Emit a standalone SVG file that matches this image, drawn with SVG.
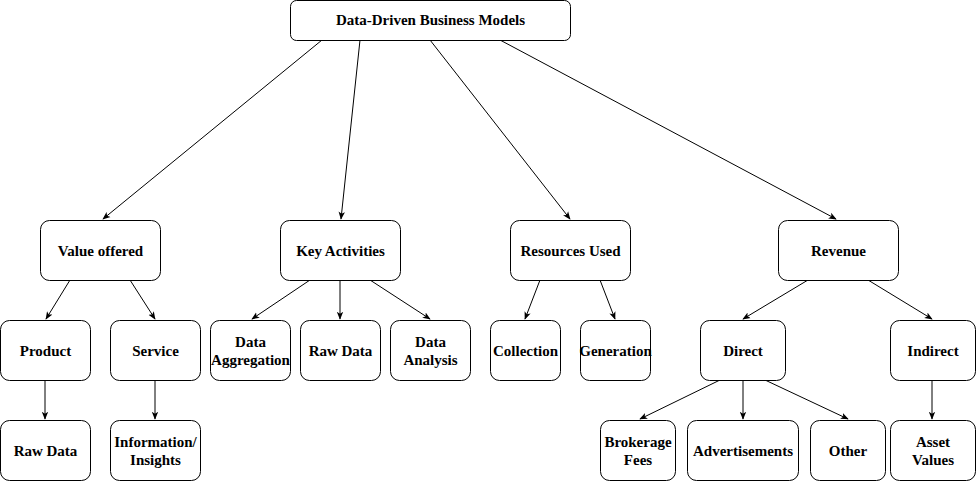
<svg xmlns="http://www.w3.org/2000/svg" width="976" height="481" viewBox="0 0 976 481">
<defs>
<marker id="arr" viewBox="0 0 10 10" refX="9" refY="5" markerWidth="8" markerHeight="8" markerUnits="userSpaceOnUse" orient="auto">
<path d="M0,1 L10,5 L0,9 L2.5,5 Z" fill="#000"/>
</marker>
<style>
.n rect{fill:#fff;stroke:#000;stroke-width:1}
.n text{font-family:"Liberation Serif","Times New Roman",serif;font-weight:bold;font-size:15px;text-anchor:middle;fill:#000}
.e path{fill:none;stroke:#000;stroke-width:1;marker-end:url(#arr)}
</style>
</defs>
<rect width="976" height="481" fill="#fff"/>
<g class="e">
<path d="M322,40 L103,219"/>
<path d="M360,40 L341,219"/>
<path d="M430,40 L570,219"/>
<path d="M500,40 L836,219"/>
<path d="M70,280 L46,319"/>
<path d="M130,280 L155,319"/>
<path d="M45,380 L45,419"/>
<path d="M155,380 L155,419"/>
<path d="M310,280 L252,319"/>
<path d="M340,280 L340,319"/>
<path d="M370,280 L430,319"/>
<path d="M540,280 L525,319"/>
<path d="M600,280 L615,319"/>
<path d="M808,280 L743,319"/>
<path d="M868,280 L932,319"/>
<path d="M720,380 L640,419"/>
<path d="M743,380 L743,419"/>
<path d="M765,380 L848,419"/>
<path d="M932,380 L932,419"/>
</g>
<g id="root" class="n"><rect x="290.5" y="0.5" width="280" height="40" rx="6"/><text x="430.5" y="25">Data-Driven Business Models</text></g>
<g id="value" class="n"><rect x="40.5" y="220.5" width="120" height="60" rx="9"/><text x="100.5" y="256">Value offered</text></g>
<g id="key" class="n"><rect x="280.5" y="220.5" width="120" height="60" rx="9"/><text x="340.5" y="256">Key Activities</text></g>
<g id="resources" class="n"><rect x="510.5" y="220.5" width="120" height="60" rx="9"/><text x="570.5" y="256">Resources Used</text></g>
<g id="revenue" class="n"><rect x="778.5" y="220.5" width="120" height="60" rx="9"/><text x="838.5" y="256">Revenue</text></g>
<g id="product" class="n"><rect x="0.5" y="320.5" width="90" height="60" rx="9"/><text x="45.5" y="356">Product</text></g>
<g id="service" class="n"><rect x="110.5" y="320.5" width="90" height="60" rx="9"/><text x="155.5" y="356">Service</text></g>
<g id="aggregation" class="n"><rect x="210.5" y="320.5" width="80" height="60" rx="9"/><text x="250.5" y="347">Data</text><text x="250.5" y="365">Aggregation</text></g>
<g id="rawdata2" class="n"><rect x="300.5" y="320.5" width="80" height="60" rx="9"/><text x="340.5" y="356">Raw Data</text></g>
<g id="analysis" class="n"><rect x="390.5" y="320.5" width="80" height="60" rx="9"/><text x="430.5" y="347">Data</text><text x="430.5" y="365">Analysis</text></g>
<g id="collection" class="n"><rect x="490.5" y="320.5" width="70" height="60" rx="9"/><text x="525.5" y="356">Collection</text></g>
<g id="generation" class="n"><rect x="580.5" y="320.5" width="70" height="60" rx="9"/><text x="615.5" y="356">Generation</text></g>
<g id="direct" class="n"><rect x="700.5" y="320.5" width="85" height="60" rx="9"/><text x="743" y="356">Direct</text></g>
<g id="indirect" class="n"><rect x="890.5" y="320.5" width="85" height="60" rx="9"/><text x="933" y="356">Indirect</text></g>
<g id="rawdata1" class="n"><rect x="0.5" y="420.5" width="90" height="60" rx="9"/><text x="45.5" y="456">Raw Data</text></g>
<g id="insights" class="n"><rect x="110.5" y="420.5" width="90" height="60" rx="9"/><text x="155.5" y="447">Information/</text><text x="155.5" y="465">Insights</text></g>
<g id="brokerage" class="n"><rect x="600.5" y="420.5" width="75" height="60" rx="9"/><text x="638" y="447">Brokerage</text><text x="638" y="465">Fees</text></g>
<g id="ads" class="n"><rect x="687.5" y="420.5" width="111" height="60" rx="9"/><text x="743" y="456">Advertisements</text></g>
<g id="other" class="n"><rect x="810.5" y="420.5" width="75" height="60" rx="9"/><text x="848" y="456">Other</text></g>
<g id="asset" class="n"><rect x="890.5" y="420.5" width="85" height="60" rx="9"/><text x="933" y="447">Asset</text><text x="933" y="465">Values</text></g>
</svg>
